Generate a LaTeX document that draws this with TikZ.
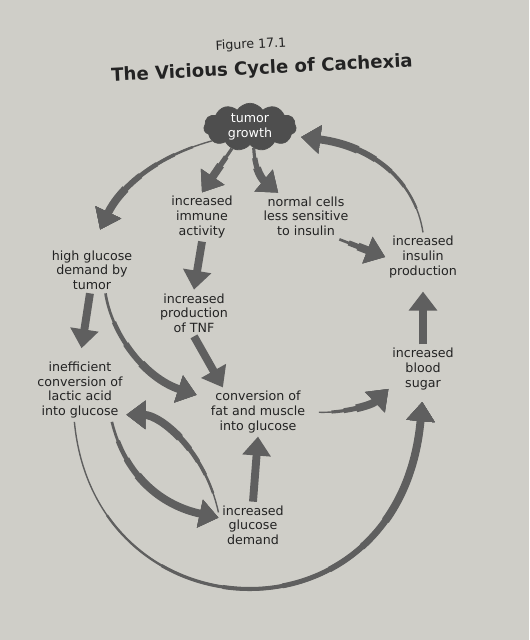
\documentclass[tikz,border=0pt]{standalone}
\usepackage{fontspec}
\setmainfont{DejaVu Sans}
\usetikzlibrary{arrows.meta,shapes.symbols}
\definecolor{paper}{RGB}{207,206,200}
\definecolor{ink}{RGB}{35,35,35}
\definecolor{arrowgray}{RGB}{95,95,95}
\definecolor{cloudgray}{RGB}{78,78,78}

% tapered arrow: [options]{width/offset list}{offset of full width}{path}
\newcommand\taper[4][]{%
  \foreach \w/\o in {#2}
    \draw[flow, #1, line width=\w pt, dash pattern=on 0pt off \o on 40cm off 0pt] #4;
  \draw[flow, #1, dash pattern=on 0pt off #3cm on 40cm off 0pt] #4;}

\begin{document}
\begin{tikzpicture}[x=0.02cm, y=-0.02cm,
  lbl/.style={font=\fontsize{7.2}{8.3}\selectfont, text=ink, align=center, inner sep=2pt},
  heading/.style={font=\fontsize{10.3}{12}\selectfont\bfseries, text=ink, rotate=2.8, inner sep=1pt},
  tumorcloud/.style={cloud, cloud puffs=11, cloud puff arc=115, aspect=2,
                     fill=cloudgray, draw=cloudgray, text=white, align=center,
                     font=\fontsize{7.2}{8.3}\selectfont,
                     minimum width=1.85cm, minimum height=0.95cm, inner sep=0pt},
  flow/.style={draw=arrowgray, line width=4.5pt, -{Triangle[length=0.38cm, width=0.55cm]}}
]
\fill[paper] (0,0) rectangle (529,640);
\useasboundingbox (0,0) rectangle (529,640);

% TITLE
\node[lbl, rotate=2.8] (fig) at (251,45) {Figure 17.1};
\node[heading] (title) at (262,69) {The Vicious Cycle of Cachexia};

% NODES
\node[tumorcloud] (tumor) at (250,127) {tumor\\growth};
\node[lbl] (immune)  at (202,217) {increased\\immune\\activity};
\node[lbl] (normal)  at (306,216) {normal cells\\less sensitive\\to insulin};
\node[lbl] (glucose) at (92,270)  {high glucose\\demand by\\tumor};
\node[lbl] (insulin) at (423,257) {increased\\insulin\\production};
\node[lbl] (tnf)     at (194,313) {increased\\production\\of TNF};
\node[lbl] (blood)   at (423,369) {increased\\blood\\sugar};
\node[lbl] (ineff)   at (80,390)  {inefficient\\conversion of\\lactic acid\\into glucose};
\node[lbl] (fat)     at (258,412) {conversion of\\fat and muscle\\into glucose};
\node[lbl] (demand)  at (253,525) {increased\\glucose\\demand};

% ARROWS
\taper[shorten >=0.38cm]{0.8/0cm, 1.4/0.4cm, 2/0.8cm, 2.6/1.2cm, 3.4/1.6cm}{2}{(tumor.200) .. controls (150,158) and (118,192) .. (glucose.north)}
\taper{1.8/0cm, 3/0.2cm}{0.4}{(tumor.-130) -- (immune.north)}
\taper{1.8/0cm, 3/0.2cm}{0.4}{(tumor.-80) .. controls (255,172) and (263,180) .. (normal.140)}
\taper[shorten >=0.2cm]{0.8/0cm, 1.4/0.5cm, 2/1cm, 2.6/1.4cm, 3.4/1.8cm}{2.2}{(insulin.north) .. controls (415,180) and (372,146) .. (tumor.-12)}
\taper{1.5/0cm, 3/0.2cm}{0.4}{(normal.-35) -- (insulin.west)}
\draw[flow] (immune.south) -- (tnf.north);
\draw[flow, shorten >=0.2cm] (glucose.-95) -- (ineff.north);
\taper[shorten >=0.22cm]{1.5/0cm, 2.5/0.6cm, 3.5/1.1cm}{1.6}{(glucose.-60) .. controls (112,335) and (145,378) .. (fat.165)}
\draw[flow] (tnf.south) -- (fat.145);
\taper[shorten <=0.2cm]{0.8/0cm, 1.8/0.25cm, 2.8/0.5cm}{0.75}{(fat.east) .. controls (345,413) and (372,405) .. (blood.-150)}
\draw[flow, shorten >=0.2cm] (blood.north) -- (insulin.south);
\taper[shorten >=0.17cm]{0.8/0cm, 1.3/2cm, 1.8/3.5cm, 2.3/4.8cm, 2.8/6cm, 3.3/7cm, 3.8/7.8cm}{8.5}{(ineff.-100) .. controls (95,640) and (400,650) .. (blood.south)}
\taper{0.8/0cm, 1.4/0.4cm, 2/0.8cm, 2.6/1.1cm, 3.4/1.4cm}{1.7}{(demand.160) .. controls (205,450) and (160,415) .. (ineff.-28)}
\taper{1.5/0cm, 2.5/0.4cm, 3.5/0.8cm}{1.2}{(ineff.-45) .. controls (125,475) and (160,505) .. (demand.168)}
\draw[flow] (demand.north) -- (fat.south);
\end{tikzpicture}
\end{document}
